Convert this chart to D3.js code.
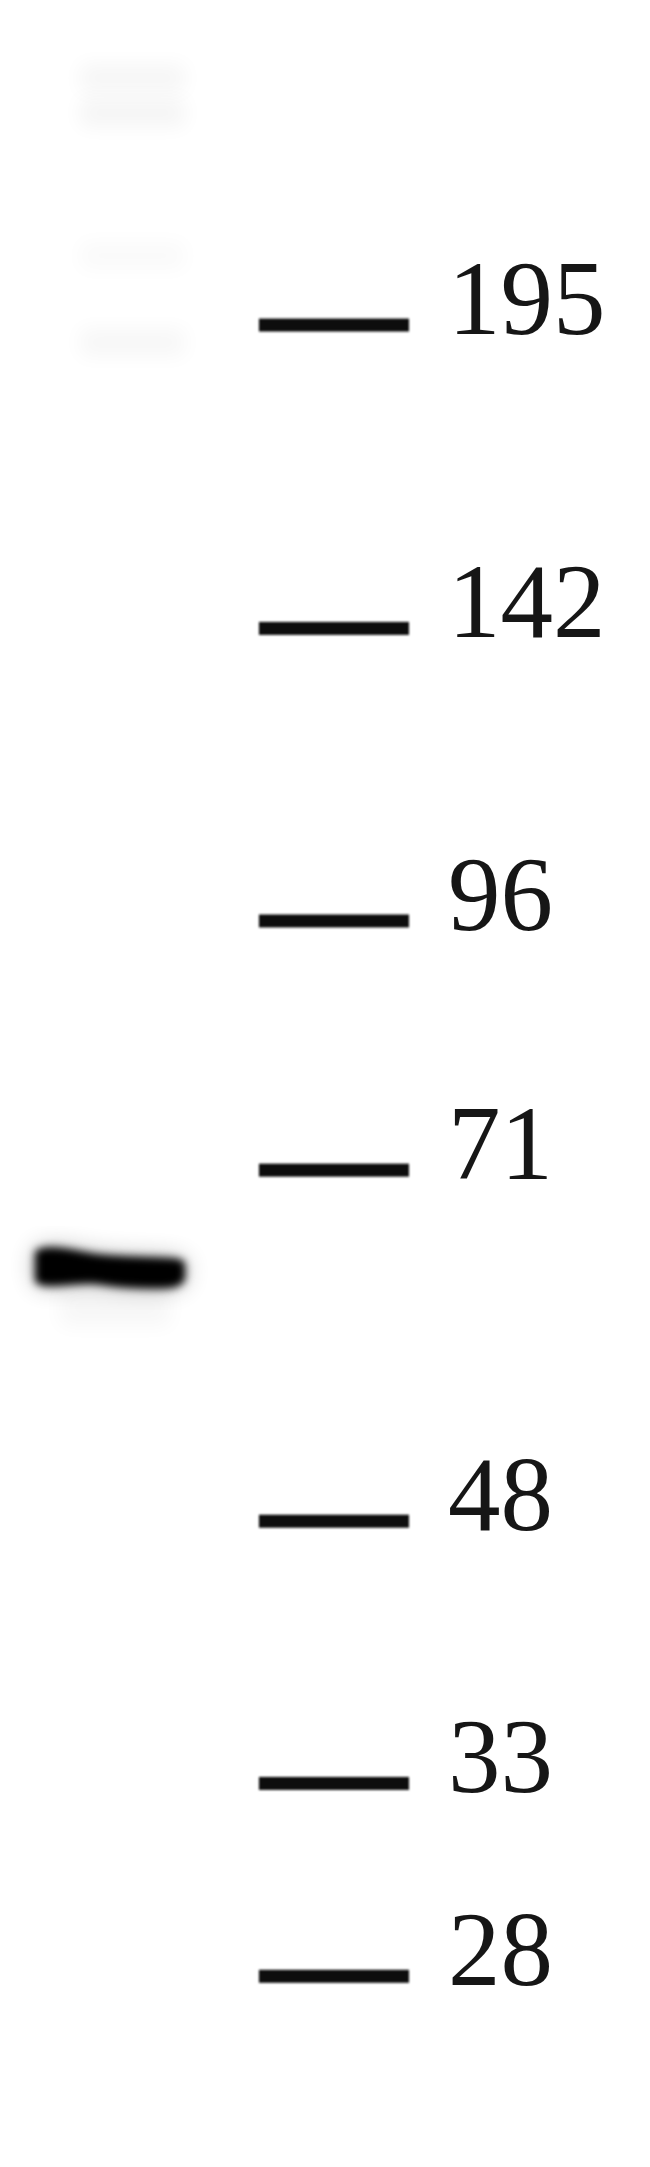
<!DOCTYPE html>
<html>
<head>
<meta charset="utf-8">
<script src="https://cdn.jsdelivr.net/npm/d3@7"></script>
<style>
  html, body { margin: 0; padding: 0; background: #fff; }
  svg { display: block; }
  .label { font-family: "Liberation Serif", "Times New Roman", serif; font-size: 105px; fill: #161616; }
</style>
</head>
<body>
<svg id="blot" width="650" height="2167"></svg>
<script>
// ladder: marker size (kDa) and how far each one ran (fraction of gel length)
var markerLabels = ["195", "142", "96", "71", "48", "33", "28"];
var markerMigration = [0.150, 0.290, 0.425, 0.540, 0.702, 0.823, 0.912];

// lanes across the membrane
var lanes = ["lane1", "ladder"];

// bands detected in lane 1
var bandMigration = [0.585];
var bandIntensity = [1.0];

// faint high-MW background smears in lane 1
var smearMigration = [0.036, 0.052, 0.118, 0.158];
var smearIntensity = [0.035, 0.04, 0.02, 0.03];

function draw() {
  var svg = d3.select("#blot"),
      width = +svg.attr("width"),
      height = +svg.attr("height");

  var y = d3.scaleLinear().domain([0, 1]).range([0, height]);
  var x = d3.scaleBand().domain(lanes).range([35, 409]).paddingInner(0.33);

  var defs = svg.append("defs");
  [["soft", 0.8], ["core", 4.5], ["halo", 12], ["smear", 10]].forEach(function (f) {
    defs.append("filter")
        .attr("id", f[0])
        .attr("x", "-50%").attr("y", "-50%")
        .attr("width", "200%").attr("height", "200%")
      .append("feGaussianBlur")
        .attr("stdDeviation", f[1]);
  });

  svg.append("rect").attr("width", width).attr("height", height).attr("fill", "#fff");

  // faint smears
  svg.append("g").selectAll("rect")
    .data(smearMigration)
    .enter().append("rect")
      .attr("x", x("lane1") + 45)
      .attr("y", function (d) { return y(d) - 14; })
      .attr("width", x.bandwidth() - 45)
      .attr("height", 28)
      .attr("fill", "#000")
      .attr("opacity", function (d, i) { return smearIntensity[i]; })
      .attr("filter", "url(#smear)");

  // band outline, offsets from the band centre line
  var profile = [[0, -16, 14], [0.04, -21, 19], [0.2, -20, 18], [0.38, -14, 15],
                 [0.5, -12, 19], [0.7, -11, 21], [0.9, -10, 21], [0.97, -9, 18], [1, -5, 12]];

  var bands = bandMigration.map(function (m, i) { return { m: m, k: bandIntensity[i] }; });

  function bandPath(d) {
    var x0 = x("lane1"), w = x.bandwidth(), cy = y(d.m);
    return d3.area()
      .x(function (p) { return x0 + p[0] * w; })
      .y0(function (p) { return cy + p[1]; })
      .y1(function (p) { return cy + p[2]; })
      .curve(d3.curveBasis)(profile);
  }

  var g = svg.append("g");
  g.selectAll(".halo")
    .data(bands)
    .enter().append("path")
      .attr("class", "halo")
      .attr("d", bandPath)
      .attr("fill", "#000")
      .attr("opacity", function (d) { return 0.3 * d.k; })
      .attr("filter", "url(#halo)");

  g.selectAll(".tail")
    .data(bands)
    .enter().append("rect")
      .attr("class", "tail")
      .attr("x", x("lane1") + 25)
      .attr("y", function (d) { return y(d.m) + 22; })
      .attr("width", x.bandwidth() - 40)
      .attr("height", 36)
      .attr("fill", "#000")
      .attr("opacity", function (d) { return 0.03 * d.k; })
      .attr("filter", "url(#smear)");

  g.selectAll(".band")
    .data(bands)
    .enter().append("path")
      .attr("class", "band")
      .attr("d", bandPath)
      .attr("fill", "#000")
      .attr("opacity", function (d) { return d.k; })
      .attr("filter", "url(#core)");

  // ladder marks and labels
  var ladder = svg.append("g");
  ladder.selectAll(".mark")
    .data(markerMigration)
    .enter().append("rect")
      .attr("class", "mark")
      .attr("x", x("ladder"))
      .attr("y", function (d) { return y(d) - 6.5; })
      .attr("width", x.bandwidth())
      .attr("height", 13)
      .attr("fill", "#111")
      .attr("filter", "url(#soft)");

  ladder.selectAll(".label")
    .data(markerMigration)
    .enter().append("text")
      .attr("class", "label")
      .attr("x", x("ladder") + x.bandwidth() + 39)
      .attr("y", function (d) { return y(d) + 9; })
      .text(function (d, i) { return markerLabels[i]; });
}

draw();
</script>
</body>
</html>
